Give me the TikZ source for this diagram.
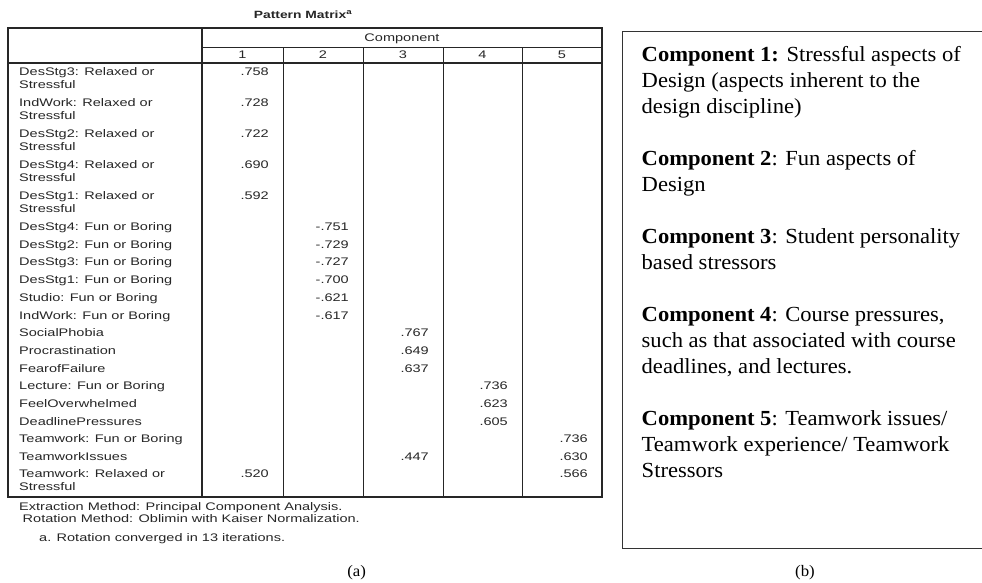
\documentclass[tikz,border=0pt]{standalone}
\usepackage{fontspec}
\newfontfamily\spss{Liberation Sans}[FakeStretch=1.32]
\newfontfamily\tnr{Liberation Serif}[FakeStretch=1.05]
\begin{document}
\begin{tikzpicture}[x=1pt,y=-1pt,
  sfont/.style={font=\spss\fontsize{11}{12}\selectfont,text=black!85},
  lbl/.style={sfont,anchor=base west,inner sep=0pt},
  val/.style={sfont,anchor=base east,inner sep=0pt},
  hdr/.style={sfont,anchor=base,inner sep=0pt},
  heavy/.style={line width=2pt,black!85},
  light/.style={line width=0.9pt,black!85},
  rtxt/.style={anchor=base west,inner sep=0pt,font=\tnr\fontsize{21.5}{26}\selectfont},
  captxt/.style={anchor=base,inner sep=0pt,font=\tnr\fontsize{16}{18}\selectfont},
]
\useasboundingbox (0,0) rectangle (982,582);
\fill[white] (0,0) rectangle (982,582);
% title
\node[hdr,font=\spss\bfseries\fontsize{10.5}{12}\selectfont] (title) at (303,18) {Pattern Matrix\textsuperscript{a}};
% table lines
\foreach \xx in {283,363,443,522} \draw[light] (\xx,47) -- (\xx,497);
\draw[light] (202,47) -- (602,47);
\draw[heavy] (8,63) -- (602,63);
\draw[heavy] (202,28) -- (202,497);
\draw[heavy] (8,28) rectangle (602,497);
% header
\node[hdr] (comp) at (402,41.5) {Component};
\node[hdr] (c1) at (242.5,58.5) {1};
\node[hdr] (c2) at (323,58.5) {2};
\node[hdr] (c3) at (403,58.5) {3};
\node[hdr] (c4) at (482.5,58.5) {4};
\node[hdr] (c5) at (562,58.5) {5};
% two-line rows
\foreach \t/\nm/\v [count=\i] in {63/DesStg3/.758,94/IndWork/.728,125/DesStg2/.722,156/DesStg4/.690,187/DesStg1/.592}{
  \node[lbl] (la\i) at (19,\t+12) {\nm: Relaxed or};
  \node[lbl] (lb\i) at (19,\t+25) {Stressful};
  \node[val] (v\i) at (269,\t+12) {\v};
}
% single rows
\foreach \lab/\xx/\v [count=\i] in {
  DesStg4: Fun or Boring/349/-.751,
  DesStg2: Fun or Boring/349/-.729,
  DesStg3: Fun or Boring/349/-.727,
  DesStg1: Fun or Boring/349/-.700,
  Studio: Fun or Boring/349/-.621,
  IndWork: Fun or Boring/349/-.617,
  SocialPhobia/429/.767,
  Procrastination/429/.649,
  FearofFailure/429/.637,
  Lecture: Fun or Boring/508/.736,
  FeelOverwhelmed/508/.623,
  DeadlinePressures/508/.605,
  Teamwork: Fun or Boring/588/.736,
  TeamworkIssues/588/.630}{
  \node[lbl] (s\i) at (19,218+17.7*\i-17.7+12.5) {\lab};
  \node[val] (sv\i) at (\xx,218+17.7*\i-17.7+12.5) {\v};
}
\node[val] (sv14b) at (429,218+17.7*13+12.5) {.447};
\node[lbl] (la6) at (19,477.8) {Teamwork: Relaxed or};
\node[lbl] (lb6) at (19,490.8) {Stressful};
\node[val] (v6a) at (269,477.8) {.520};
\node[val] (v6b) at (588,477.8) {.566};
% footnotes
\node[lbl] (f1) at (19,510) {Extraction Method: Principal Component Analysis.};
\node[lbl] (f2) at (22.5,522) {Rotation Method: Oblimin with Kaiser Normalization.};
\node[lbl] (f3) at (39,541) {a. Rotation converged in 13 iterations.};
% right box
\draw[line width=1pt,black!80] (982,31.5) -- (622.5,31.5) -- (622.5,548) -- (982,548);
\node[rtxt] (p1a) at (641.5,61.5) {\textbf{Component 1:} Stressful aspects of};
\node[rtxt] (p1b) at (641.5,87.5) {Design (aspects inherent to the};
\node[rtxt] (p1c) at (641.5,113.5) {design discipline)};
\node[rtxt] (p2a) at (641.5,165.5) {\textbf{Component 2}: Fun aspects of};
\node[rtxt] (p2b) at (641.5,191.5) {Design};
\node[rtxt] (p3a) at (641.5,243.5) {\textbf{Component 3}: Student personality};
\node[rtxt] (p3b) at (641.5,269.5) {based stressors};
\node[rtxt] (p4a) at (641.5,321.5) {\textbf{Component 4}: Course pressures,};
\node[rtxt] (p4b) at (641.5,347.5) {such as that associated with course};
\node[rtxt] (p4c) at (641.5,373.5) {deadlines, and lectures.};
\node[rtxt] (p5a) at (641.5,425.5) {\textbf{Component 5}: Teamwork issues/};
\node[rtxt] (p5b) at (641.5,451.5) {Teamwork experience/ Teamwork};
\node[rtxt] (p5c) at (641.5,477.5) {Stressors};
% captions
\node[captxt] (capa) at (356.7,576) {(a)};
\node[captxt] (capb) at (805,576) {(b)};
\end{tikzpicture}
\end{document}
